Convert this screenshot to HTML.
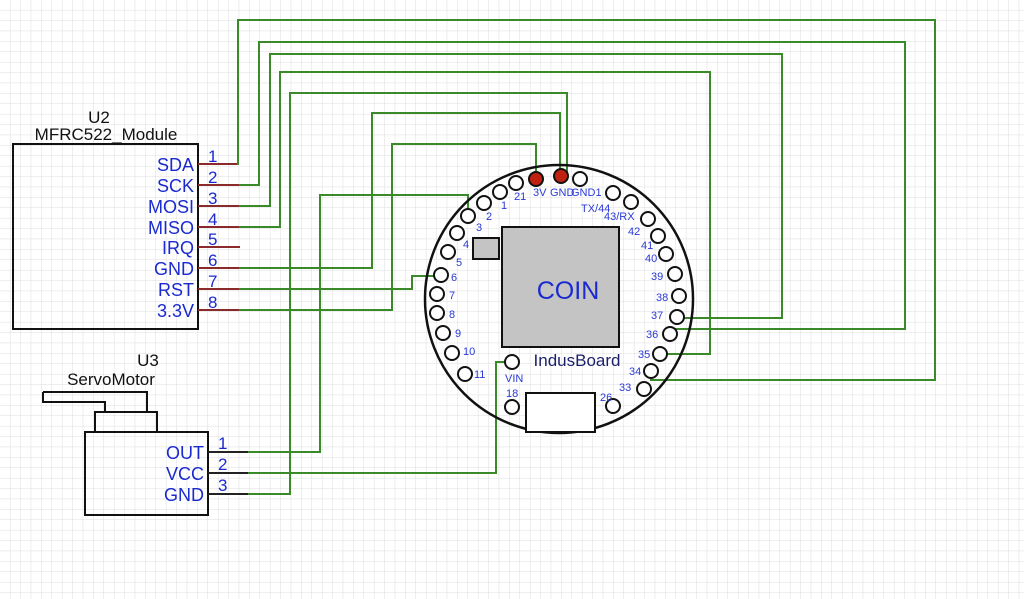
<!DOCTYPE html>
<html><head><style>
body{margin:0;width:1024px;height:599px;overflow:hidden;background:#fff}
svg{display:block}
text{font-family:"Liberation Sans",sans-serif}
.pl{fill:#1a2ad0;font-size:18px;text-anchor:end}
.pn{fill:#1a2ad0;font-size:17px}
.bl{fill:#2a3ad8;font-size:11px;font-family:"DejaVu Sans Mono","Liberation Mono",monospace}
.w{fill:none;stroke:#3a8a2a;stroke-width:2}
.pad{fill:#fff;stroke:#111;stroke-width:2}
</style></head><body>
<svg width="1024" height="599" viewBox="0 0 1024 599">
<defs><pattern id="g" width="10.4" height="10.4" patternUnits="userSpaceOnUse"><path d="M10.4 0V10.4H0" fill="none" stroke="#dcdcdc" stroke-width="1"/></pattern></defs>
<rect width="1024" height="599" fill="url(#g)"/>
<!-- U2 -->
<text x="99" y="123" font-size="17" text-anchor="middle" fill="#111">U2</text>
<text x="106" y="140" font-size="17" text-anchor="middle" fill="#111">MFRC522_Module</text>
<rect x="13" y="144" width="185" height="185" fill="none" stroke="#111" stroke-width="2"/>
<g stroke="#8a2a2a" stroke-width="2">
<line x1="198" y1="164" x2="239" y2="164"/><line x1="198" y1="185" x2="239" y2="185"/><line x1="198" y1="206" x2="239" y2="206"/><line x1="198" y1="227" x2="239" y2="227"/><line x1="198" y1="247" x2="240" y2="247"/><line x1="198" y1="268" x2="239" y2="268"/><line x1="198" y1="289" x2="239" y2="289"/><line x1="198" y1="310" x2="239" y2="310"/>
</g>
<g class="pl"><text x="194" y="171">SDA</text><text x="194" y="192">SCK</text><text x="194" y="213">MOSI</text><text x="194" y="234">MISO</text><text x="194" y="254">IRQ</text><text x="194" y="275">GND</text><text x="194" y="296">RST</text><text x="194" y="317">3.3V</text></g>
<g class="pn"><text x="208" y="162">1</text><text x="208" y="183">2</text><text x="208" y="204">3</text><text x="208" y="225">4</text><text x="208" y="245">5</text><text x="208" y="266">6</text><text x="208" y="287">7</text><text x="208" y="308">8</text></g>
<!-- U3 -->
<text x="148" y="366" font-size="17" text-anchor="middle" fill="#111">U3</text>
<text x="111" y="385" font-size="17" text-anchor="middle" fill="#111">ServoMotor</text>
<path d="M43 392H147V412M43 392V402H105V412" fill="none" stroke="#111" stroke-width="2"/>
<rect x="95" y="412" width="62" height="20" fill="none" stroke="#111" stroke-width="2"/>
<rect x="85" y="432" width="123" height="83" fill="none" stroke="#111" stroke-width="2"/>
<g stroke="#222" stroke-width="2"><line x1="208" y1="452" x2="248" y2="452"/><line x1="208" y1="473" x2="248" y2="473"/><line x1="208" y1="494" x2="248" y2="494"/></g>
<g class="pl"><text x="204" y="459">OUT</text><text x="204" y="480">VCC</text><text x="204" y="501">GND</text></g>
<g class="pn"><text x="218" y="449">1</text><text x="218" y="470">2</text><text x="218" y="491">3</text></g>
<!-- wires -->
<path class="w" d="M239 164H238V20H935V380H650"/>
<path class="w" d="M239 185H259V42H905V329H670V334"/>
<path class="w" d="M239 206H270V54H782V318H677"/>
<path class="w" d="M239 227H280V72H710V354H660"/>
<path class="w" d="M239 268H372V113H560V176"/>
<path class="w" d="M239 289H412V276H440"/>
<path class="w" d="M239 310H392V144H536V179"/>
<path class="w" d="M248 452H320V195H468V216"/>
<path class="w" d="M248 473H496V362H512"/>
<path class="w" d="M248 494H290V93H567V176"/>
<!-- board -->
<circle cx="559" cy="299" r="134" fill="none" stroke="#111" stroke-width="2.5"/>
<rect x="502" y="227" width="117" height="120" fill="#c4c4c4" stroke="#111" stroke-width="2"/>
<rect x="473" y="238" width="26" height="21" fill="#c4c4c4" stroke="#111" stroke-width="2"/>
<text x="568" y="299" font-size="25" text-anchor="middle" fill="#1a2ad0">COIN</text>
<text x="577" y="366" font-size="17" text-anchor="middle" fill="#1a1f6a">IndusBoard</text>
<rect x="526" y="393" width="69" height="39" fill="#fff" stroke="#111" stroke-width="2"/>
<g class="pad">
<circle cx="580" cy="179" r="7"/><circle cx="516" cy="183" r="7"/><circle cx="500" cy="192" r="7"/><circle cx="484" cy="203" r="7"/><circle cx="468" cy="216" r="7"/><circle cx="457" cy="233" r="7"/><circle cx="448" cy="252" r="7"/><circle cx="441" cy="275" r="7"/><circle cx="437" cy="294" r="7"/><circle cx="437" cy="313" r="7"/><circle cx="443" cy="333" r="7"/><circle cx="452" cy="353" r="7"/><circle cx="465" cy="374" r="7"/><circle cx="512" cy="362" r="7"/><circle cx="512" cy="407" r="7"/><circle cx="613" cy="406" r="7"/><circle cx="644" cy="389" r="7"/><circle cx="651" cy="371" r="7"/><circle cx="660" cy="354" r="7"/><circle cx="670" cy="334" r="7"/><circle cx="677" cy="317" r="7"/><circle cx="679" cy="296" r="7"/><circle cx="675" cy="274" r="7"/><circle cx="666" cy="254" r="7"/><circle cx="658" cy="236" r="7"/><circle cx="648" cy="219" r="7"/><circle cx="631" cy="202" r="7"/><circle cx="613" cy="193" r="7"/>
</g>
<circle cx="536" cy="179" r="7" fill="#c02010" stroke="#111" stroke-width="2"/>
<circle cx="561" cy="176" r="7" fill="#c02010" stroke="#111" stroke-width="2"/>
<g class="bl">
<text x="533" y="196">3V</text><text x="550" y="196">GND</text><text x="571" y="196">GND1</text>
<text x="514" y="200">21</text><text x="501" y="209">1</text><text x="486" y="220">2</text><text x="476" y="231">3</text><text x="463" y="248">4</text><text x="456" y="266">5</text><text x="451" y="281">6</text><text x="449" y="299">7</text><text x="449" y="318">8</text><text x="455" y="337">9</text><text x="463" y="355">10</text><text x="474" y="378">11</text>
<text x="505" y="382">VIN</text><text x="506" y="397">18</text><text x="600" y="401">26</text>
<text x="619" y="391">33</text><text x="629" y="375">34</text><text x="638" y="358">35</text><text x="646" y="338">36</text><text x="651" y="319">37</text><text x="656" y="301">38</text><text x="651" y="280">39</text><text x="645" y="262">40</text><text x="641" y="249">41</text><text x="628" y="235">42</text><text x="604" y="220">43/RX</text><text x="581" y="212">TX/44</text>
</g>
</svg>
</body></html>
